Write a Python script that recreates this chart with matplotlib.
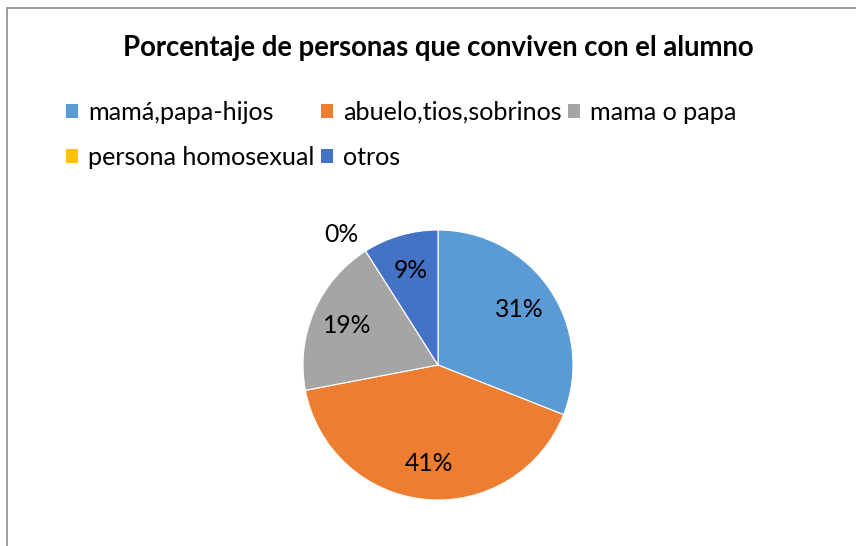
import matplotlib
matplotlib.use("Agg")
import matplotlib.pyplot as plt
import matplotlib.patches as mpatches
import numpy as np

categories = ["mamá,papa-hijos", "abuelo,tios,sobrinos", "mama o papa", "persona homosexual", "otros"]
values = [31, 41, 19, 0, 9]
colors = ["#5B9BD5", "#ED7D31", "#A5A5A5", "#FFC000", "#4472C4"]
title = "Porcentaje de personas que conviven con el alumno"

plt.rcParams['font.family'] = ['Lato', 'DejaVu Sans']

W, H = 856, 546
fig = plt.figure(figsize=(W/100, H/100), dpi=100)
fig.patch.set_facecolor("white")

# chart border (left and top visible, right/bottom cropped)
fig.add_artist(mpatches.Rectangle((7/W, -0.1), 1.2, (H-8)/H + 0.1, transform=fig.transFigure,
                                  fill=False, edgecolor="#8c8c8c", linewidth=1.2))

cx, cy, r = 438, 365, 135
ax = fig.add_axes([(cx-r)/W, (H-cy-r)/H, 2*r/W, 2*r/H])
wedges, texts, autotexts = ax.pie(values, colors=colors, startangle=90, counterclock=False,
                                  autopct=lambda p: f"{p:.0f}%", pctdistance=0.73,
                                  wedgeprops=dict(edgecolor="white", linewidth=0.8),
                                  textprops=dict(fontsize=17.8, color="black"))
ax.set_xlim(-1, 1)
ax.set_ylim(-1, 1)
ax.set_aspect("equal")
ax.axis("off")

# zero slice label placed outside (best-fit style)
total = sum(values)
cum = np.cumsum([0] + values)
for i, t in enumerate(autotexts):
    if values[i] == 0:
        mid = 90 - 360 * (cum[i] + values[i] / 2) / total + 4
        rad = 1.2
        t.set_position((rad*np.cos(np.radians(mid)), rad*np.sin(np.radians(mid))))
        t.set_clip_on(False)

fig.text(cx/W, 1 - 48/H, title, ha="center", va="center", fontsize=19.8, fontweight="bold", color="black")

order = [0, 3, 1, 4, 2]
handles = [mpatches.Patch(facecolor=colors[i], edgecolor="none") for i in order]
labels = [categories[i] for i in order]
leg = fig.legend(handles, labels, loc="upper left", bbox_to_anchor=(56/W, 1 - 91/H), ncol=3,
                 frameon=False, fontsize=18.1, handlelength=0.48, handleheight=0.48,
                 handletextpad=0.4, columnspacing=0.25, labelspacing=0.86, borderaxespad=0)

fig.savefig("out.png", dpi=100, facecolor="white")
